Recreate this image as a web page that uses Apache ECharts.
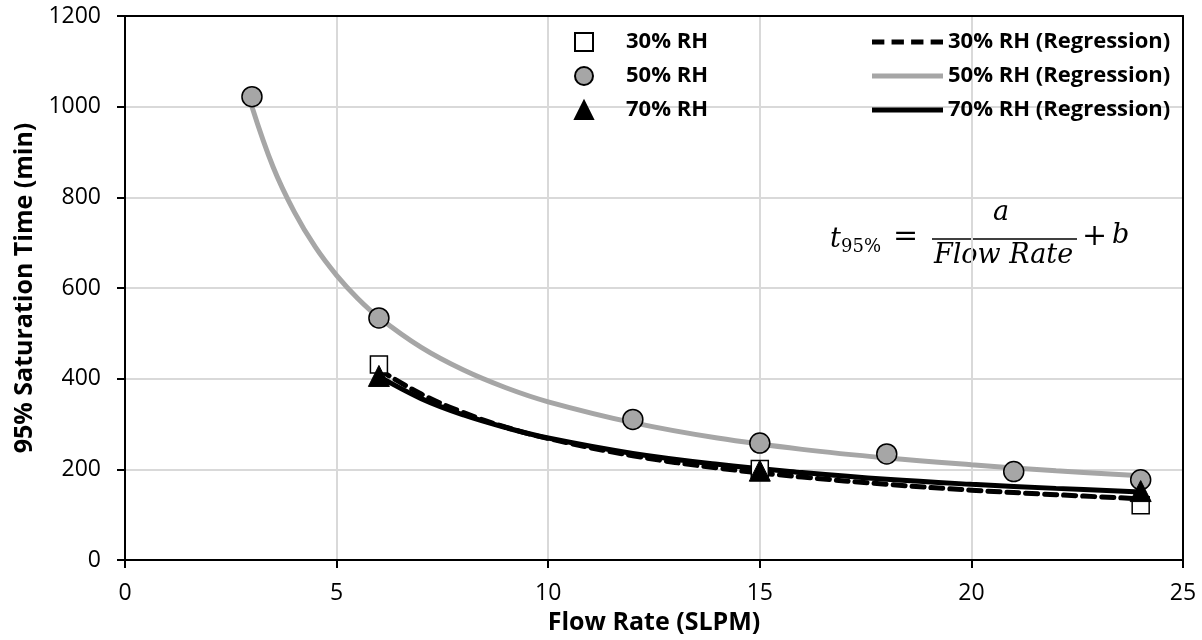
<!DOCTYPE html>
<html>
<head>
    <meta charset="utf-8">
    <title>95% Saturation Time vs Flow Rate</title>
    <script src="https://cdn.jsdelivr.net/npm/echarts@6/dist/echarts.min.js"></script>
    <style>
        html, body { margin: 0; padding: 0; background: #fff; }
        #chart1 { width: 1202px; height: 640px; }
    </style>
</head>
<body>
<div id="chart1"></div>
<script type="text/javascript">
    // measured points (flow rate in SLPM, time in min)
    var rh30X = [6, 15, 24];
    var rh30Y = [431, 201, 121];
    var rh50X = [3, 6, 12, 15, 18, 21, 24];
    var rh50Y = [1022, 534, 310, 258, 234, 195, 177];
    var rh70X = [6, 15, 24];
    var rh70Y = [406, 197, 152];

    // regression curves
    var reg50X = [3, 3.5, 4, 4.5, 5, 5.5, 6, 7, 8, 9, 10, 12, 14, 16, 18, 20, 22, 24];
    var reg50Y = [1000, 867, 768, 690, 628, 577, 535, 469, 419, 380, 349, 303, 269, 244, 225, 210, 197, 186];
    var regX = [6, 7, 8, 9, 10, 12, 14, 16, 18, 20, 22, 24];
    var reg30Y = [420, 366, 325, 293, 268, 230, 203, 183, 167, 154, 144, 135];
    var reg70Y = [405, 356, 320, 292, 269, 235, 211, 193, 178, 167, 158, 150];

    var xTicks = [0, 5, 10, 15, 20, 25];
    var yTicks = [0, 200, 400, 600, 800, 1000, 1200];

    function pairs(xs, ys) {
        var out = [];
        for (var i = 0; i < xs.length; i++) out.push([xs[i], ys[i]]);
        return out;
    }

    var font = '"Open Sans", "Noto Sans", sans-serif';
    var mathFont = '"DejaVu Serif", "Liberation Serif", serif';
    var legendText = { fontFamily: font, fontWeight: 'bold', fontSize: 22, color: '#000' };
    var titleText = { fontFamily: font, fontWeight: 'bold', fontSize: 25, color: '#000' };
    var tickStyle = { show: true, inside: false, length: 8, lineStyle: { color: '#000', width: 2 } };
    var xRange = { type: 'value', min: xTicks[0], max: xTicks[xTicks.length - 1], interval: 5 };
    var yRange = { type: 'value', min: yTicks[0], max: yTicks[yTicks.length - 1], interval: 200 };

    // frame axes: black line, no grid lines
    function frame(base, extra) {
        return Object.assign({}, base, {
            axisLine: { show: true, onZero: false, lineStyle: { color: '#000', width: 2 } },
            axisTick: { show: false },
            axisLabel: { show: false },
            splitLine: { show: false },
            z: 10
        }, extra);
    }
    // grid-only axes, drawn underneath
    function gridOnly(base, pos) {
        return Object.assign({}, base, {
            position: pos,
            axisLine: { show: false }, axisTick: { show: false }, axisLabel: { show: false },
            splitLine: { show: true, lineStyle: { color: '#d9d9d9', width: 2 } },
            z: 1
        });
    }

    var dashIcon = 'path://M0,0h12v5h-12z M19,0h12v5h-12z M38,0h12v5h-12z M57,0h12v5h-12z';
    var solidIcon = 'path://M0,0h71v5h-71z';

    var myChart1 = echarts.init(document.getElementById('chart1'));
    myChart1.setOption({
        animation: false,
        backgroundColor: '#fff',
        grid: { left: 125, right: 19, top: 16, bottom: 77 },
        legend: [
            {
                data: ['30% RH', '50% RH', '70% RH'],
                orient: 'vertical',
                left: 574, top: 31, padding: 0,
                itemWidth: 18, itemHeight: 18, itemGap: 12,
                symbolKeepAspect: true,
                textStyle: Object.assign({ padding: [0, 0, 0, 28] }, legendText)
            },
            {
                data: [
                    { name: '30% RH (Regression)', icon: dashIcon },
                    { name: '50% RH (Regression)', icon: solidIcon },
                    { name: '70% RH (Regression)', icon: solidIcon }
                ],
                orient: 'vertical',
                left: 872, top: 31, padding: 0,
                itemWidth: 71, itemHeight: 18, itemGap: 12,
                symbolKeepAspect: true,
                textStyle: legendText
            }
        ],
        xAxis: [
            frame(xRange, {
                position: 'bottom',
                name: 'Flow Rate (SLPM)',
                nameLocation: 'middle', nameGap: 50,
                nameTextStyle: titleText,
                axisTick: tickStyle,
                axisLabel: { show: true, margin: 22, fontFamily: font, fontSize: 23, color: '#000' }
            }),
            frame(xRange, { position: 'top' }),
            gridOnly(xRange, 'bottom')
        ],
        yAxis: [
            frame(yRange, {
                position: 'left',
                name: '95% Saturation Time (min)',
                nameLocation: 'middle', nameGap: 88,
                nameTextStyle: titleText,
                axisTick: tickStyle,
                axisLabel: { show: true, margin: 24, fontFamily: font, fontSize: 23, color: '#000',
                             formatter: function (v) { return String(v); } }
            }),
            frame(yRange, { position: 'right' }),
            gridOnly(yRange, 'left')
        ],
        series: [
            {
                name: '30% RH (Regression)', type: 'line', smooth: 0.4,
                symbol: 'none', z: 2,
                data: pairs(regX, reg30Y),
                lineStyle: { color: '#000', width: 5, type: [12, 7], cap: 'round' },
                itemStyle: { color: '#000' }
            },
            {
                name: '50% RH (Regression)', type: 'line', smooth: 0.4,
                symbol: 'none', z: 2,
                data: pairs(reg50X, reg50Y),
                lineStyle: { color: '#a6a6a6', width: 5 },
                itemStyle: { color: '#a6a6a6' }
            },
            {
                name: '70% RH (Regression)', type: 'line', smooth: 0.4,
                symbol: 'none', z: 2,
                data: pairs(regX, reg70Y),
                lineStyle: { color: '#000', width: 5 },
                itemStyle: { color: '#000' }
            },
            {
                name: '30% RH', type: 'scatter', symbol: 'rect', symbolSize: 17, z: 3,
                data: pairs(rh30X, rh30Y),
                itemStyle: { color: '#fff', borderColor: '#000', borderWidth: 1.5, opacity: 1 }
            },
            {
                name: '50% RH', type: 'scatter', symbol: 'circle', symbolSize: 20, z: 3,
                data: pairs(rh50X, rh50Y),
                itemStyle: { color: '#a6a6a6', borderColor: '#000', borderWidth: 1.5, opacity: 1 }
            },
            {
                name: '70% RH', type: 'scatter', symbol: 'triangle', symbolSize: 21, z: 4,
                data: pairs(rh70X, rh70Y),
                itemStyle: { color: '#000', borderColor: '#000', borderWidth: 1, opacity: 1 }
            }
        ],
        // the fitted form written inside the plot
        graphic: [
            { type: 'text', left: 830, top: 226,
              style: { text: 't', font: 'italic 27px ' + mathFont, fill: '#000' } },
            { type: 'text', left: 841, top: 238,
              style: { text: '95%', font: '18px ' + mathFont, fill: '#000' } },
            { type: 'text', left: 893, top: 222,
              style: { text: '=', font: '30px ' + mathFont, fill: '#000' } },
            { type: 'text', left: 993, top: 199,
              style: { text: 'a', font: 'italic 27px ' + mathFont, fill: '#000' } },
            { type: 'line', shape: { x1: 932, y1: 239, x2: 1077, y2: 239 },
              style: { stroke: '#000', lineWidth: 1.5 } },
            { type: 'text', left: 934, top: 242,
              style: { text: 'Flow Rate', font: 'italic 27px ' + mathFont, fill: '#000' } },
            { type: 'text', left: 1082, top: 222,
              style: { text: '+', font: '30px ' + mathFont, fill: '#000' } },
            { type: 'text', left: 1112, top: 222,
              style: { text: 'b', font: 'italic 27px ' + mathFont, fill: '#000' } }
        ]
    });
</script>
</body>
</html>
